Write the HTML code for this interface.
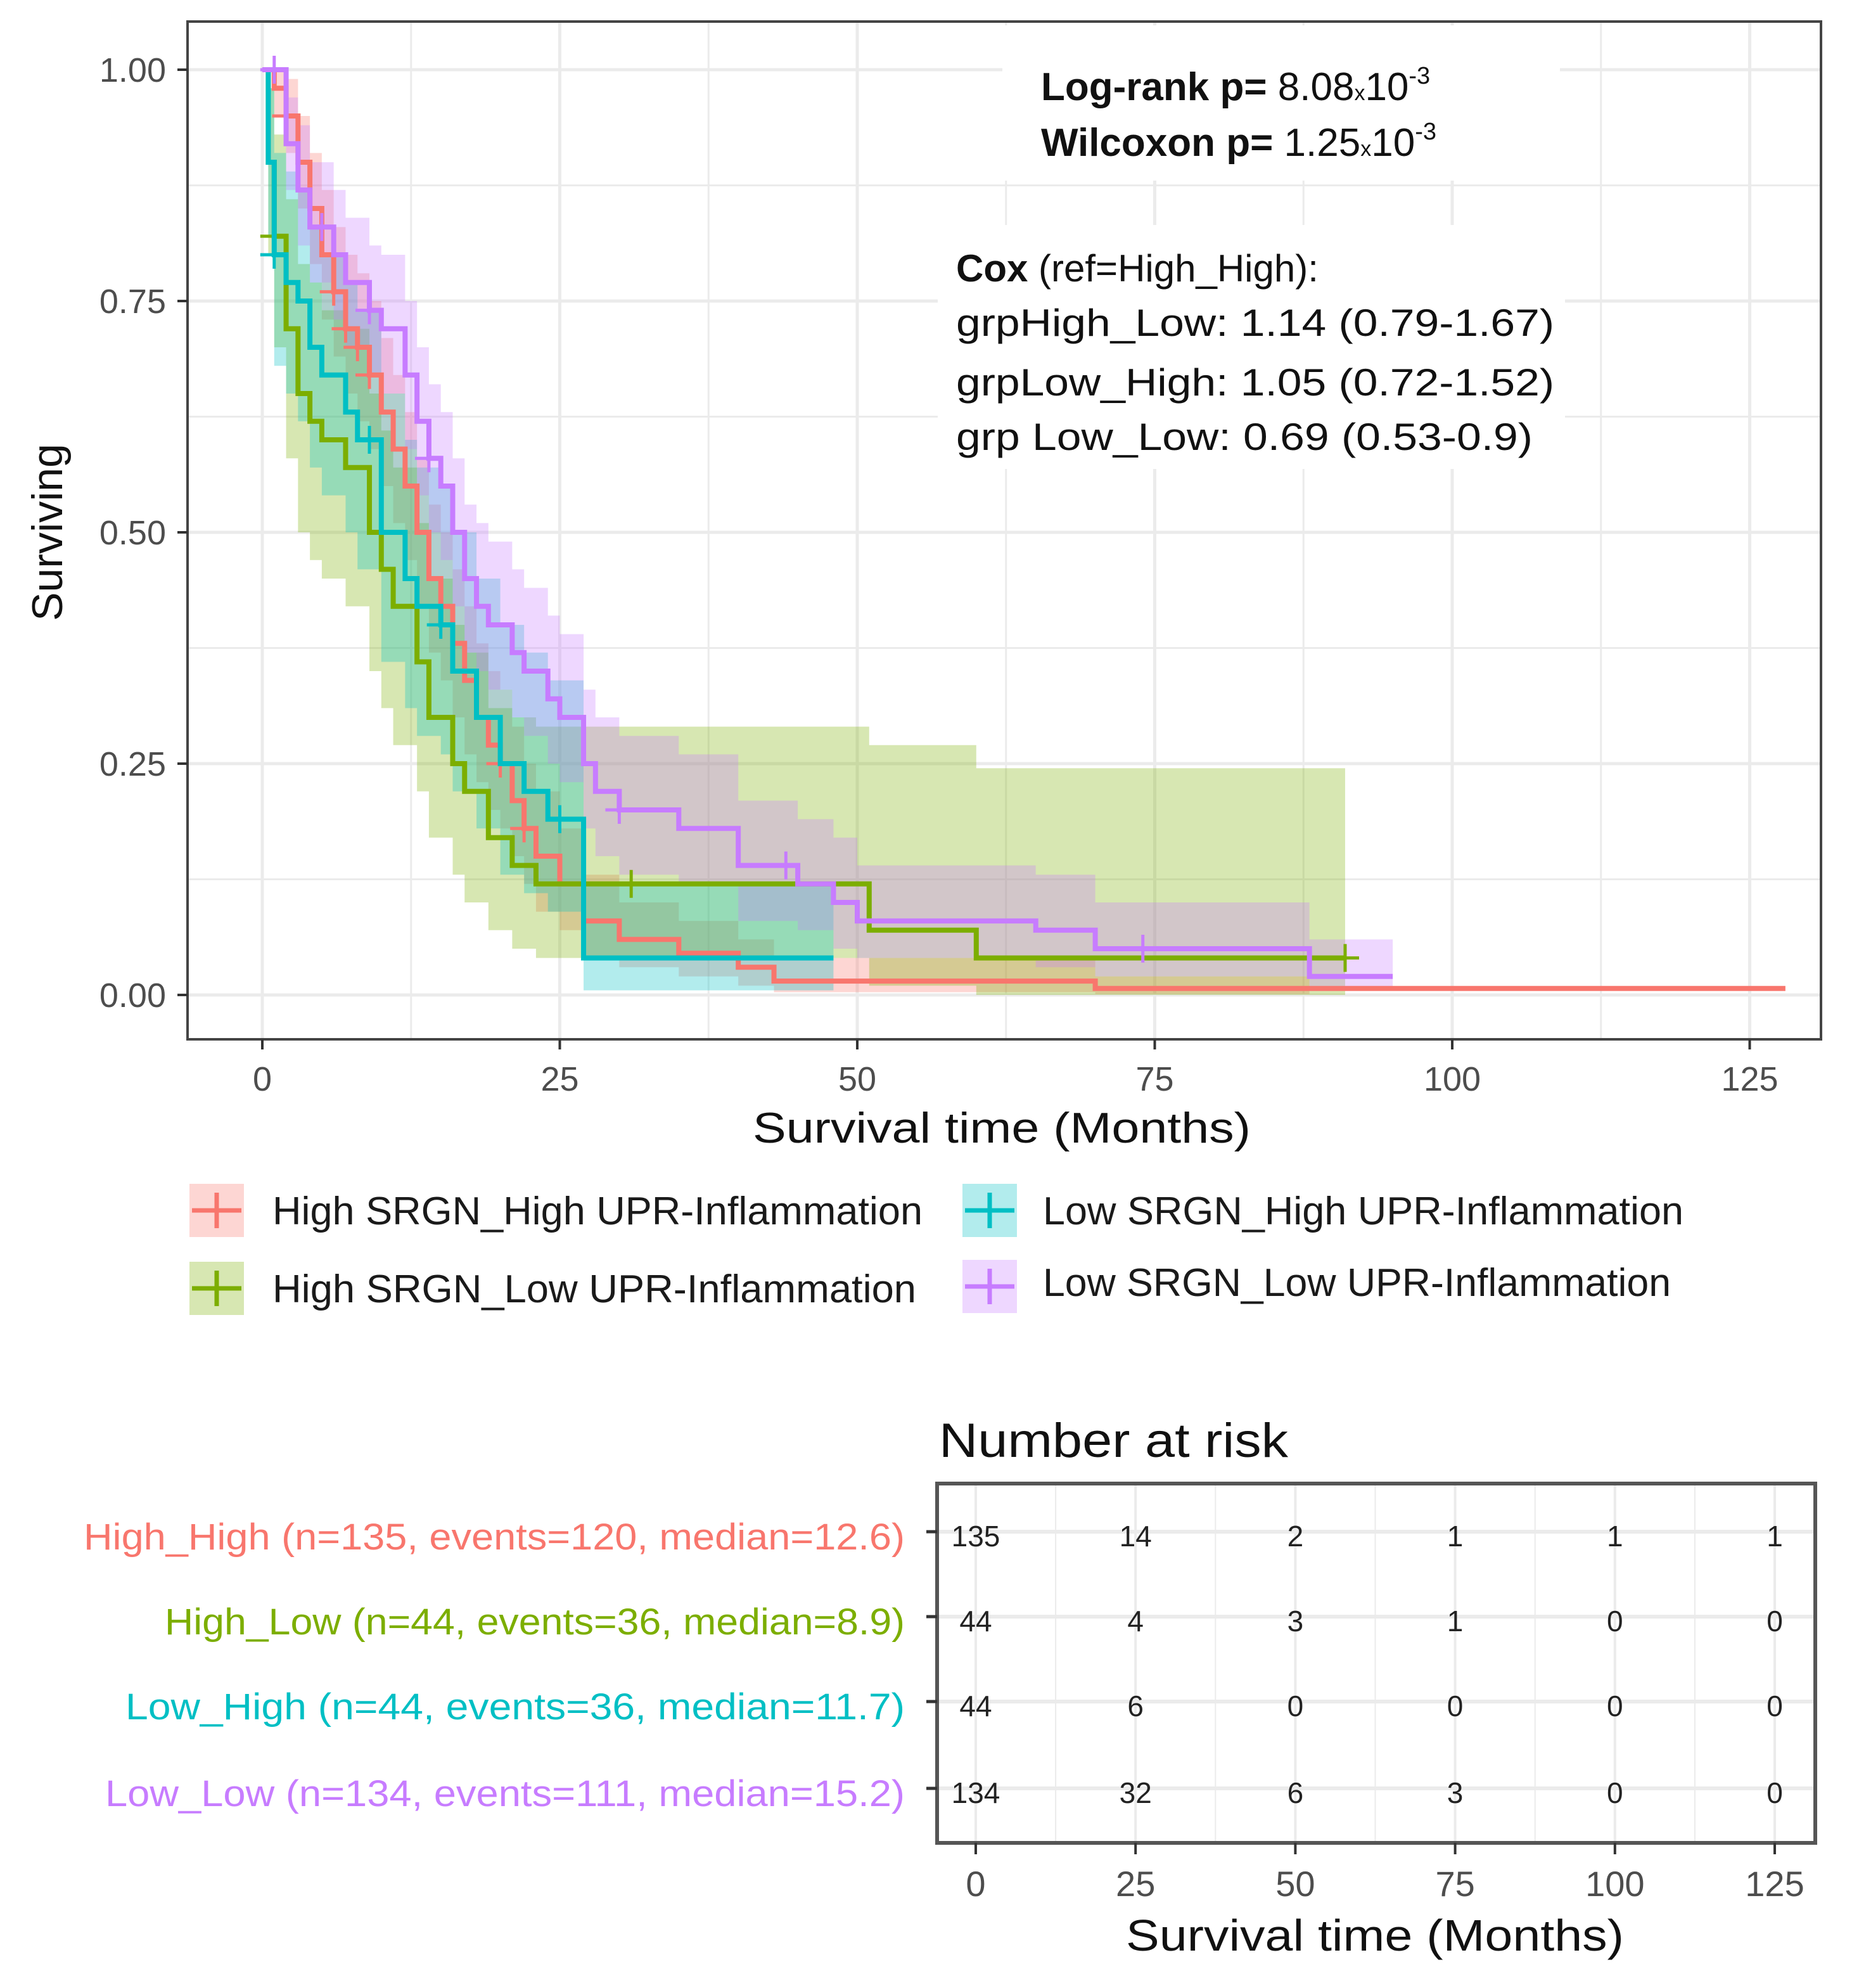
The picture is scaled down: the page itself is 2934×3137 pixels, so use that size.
<!DOCTYPE html>
<html><head><meta charset="utf-8">
<style>
html,body{margin:0;padding:0;background:#fff;}
svg{display:block;font-family:"Liberation Sans",sans-serif;}
</style></head>
<body>
<svg id="chart" width="2934" height="3137" viewBox="0 0 2934 3137" xmlns="http://www.w3.org/2000/svg">
<rect x="0" y="0" width="2934" height="3137" fill="#fff"/>
<g id="grid"></g>
<g id="bands"></g>
<g id="curves"></g>
<g id="annot">
  <rect x="1582" y="40" width="880" height="245" fill="#fff"/>
  <rect x="1480" y="355" width="990" height="385" fill="#fff"/>
  <text x="1643" y="158" font-size="62" fill="#111"><tspan font-weight="bold">Log-rank  p=</tspan> 8.08<tspan font-size="34">x</tspan>10<tspan font-size="38" dy="-26">-3</tspan></text>
  <text x="1643" y="246" font-size="62" fill="#111"><tspan font-weight="bold">Wilcoxon p=</tspan> 1.25<tspan font-size="34">x</tspan>10<tspan font-size="38" dy="-26">-3</tspan></text>
  <text x="1509" y="444" font-size="60" fill="#111"><tspan font-weight="bold">Cox</tspan> (ref=High_High):</text>
  <text x="1509" y="530" font-size="60" fill="#111" textLength="944" lengthAdjust="spacingAndGlyphs">grpHigh_Low: 1.14 (0.79-1.67)</text>
  <text x="1509" y="624" font-size="60" fill="#111" textLength="944" lengthAdjust="spacingAndGlyphs">grpLow_High: 1.05 (0.72-1.52)</text>
  <text x="1509" y="710" font-size="60" fill="#111" textLength="910" lengthAdjust="spacingAndGlyphs">grp Low_Low: 0.69 (0.53-0.9)</text>
</g>
<rect x="296" y="34" width="2578" height="1606" fill="none" stroke="#444" stroke-width="4"/>
<g id="axes"></g>
<text x="1581" y="1803" font-size="68" fill="#111" text-anchor="middle" textLength="786" lengthAdjust="spacingAndGlyphs">Survival time (Months)</text>
<text transform="translate(98,840) rotate(-90)" font-size="68" fill="#111" text-anchor="middle">Surviving</text>
<g id="legend"></g>
<g id="risk"></g>
</svg>
<script>
const NS="http://www.w3.org/2000/svg";
const groupNames=["High_High","High_Low","Low_High","Low_Low"];
const colors=["#F8766D","#7CAE00","#00BFC4","#C77CFF"];
const legendLabels=["High SRGN_High UPR-Inflammation","High SRGN_Low UPR-Inflammation","Low SRGN_High UPR-Inflammation","Low SRGN_Low UPR-Inflammation"];
const xTicks=[0,25,50,75,100,125];
const yTicks=[0,0.25,0.5,0.75,1];
const yTickLabels=["0.00","0.25","0.50","0.75","1.00"];
// High_High
const hhTime=[0,1,2,3,4,5,6,7,8,9,10,11,12,13,14,15,16,17,18,19,20,21,22,23,25,27,30,35,40,43,70];
const hhSurv=[1,.98,.95,.9,.85,.8,.76,.72,.7,.67,.63,.59,.55,.5,.45,.42,.38,.34,.3,.27,.25,.21,.18,.15,.12,.08,.06,.045,.03,.015,.007];
const hhUpper=[1,1,.99,.95,.91,.87,.83,.8,.78,.75,.71,.67,.63,.58,.53,.5,.46,.42,.38,.35,.33,.29,.25,.22,.18,.13,.1,.08,.06,.04,.02];
const hhLower=[1,.95,.91,.85,.79,.73,.69,.65,.62,.59,.55,.51,.47,.42,.37,.34,.3,.26,.23,.2,.18,.15,.12,.09,.07,.04,.03,.02,.01,.003,.001];
const hhEnd=128;
const hhCensor=[2,6,7,8,9,20,22];
// High_Low
const hlTime=[0,0.5,1,2,3,4,5,7,9,10,11,13,14,16,17,19,21,23,51,60];
const hlSurv=[1,.9,.82,.72,.65,.62,.6,.57,.5,.46,.42,.36,.3,.25,.22,.17,.14,.12,.07,.04];
const hlUpper=[1,.98,.93,.86,.79,.77,.74,.72,.65,.61,.57,.51,.45,.4,.37,.31,.3,.29,.27,.245];
const hlLower=[1,.8,.7,.58,.5,.47,.45,.42,.35,.31,.27,.22,.17,.13,.1,.07,.05,.04,.01,.0];
const hlEnd=91;
const hlCensor=[1,31,91];
// Low_High
const lhTime=[0,0.5,1,2,3,4,5,7,8,10,12,13,15,16,18,20,22,24,27];
const lhSurv=[1,.9,.8,.77,.75,.7,.67,.63,.6,.5,.45,.42,.4,.35,.3,.25,.22,.19,.04];
const lhUpper=[1,.98,.91,.89,.87,.83,.8,.77,.74,.65,.6,.57,.55,.5,.45,.4,.37,.34,.12];
const lhLower=[1,.82,.68,.65,.62,.57,.54,.5,.46,.36,.31,.28,.26,.22,.18,.13,.11,.09,.005];
const lhEnd=48;
const lhCensor=[1,9,15,25];
// Low_Low
const llTime=[0,2,3,4,6,7,9,10,12,13,14,15,16,17,18,19,21,22,24,25,27,28,30,35,40,45,48,50,65,70,88];
const llSurv=[1,.92,.87,.83,.8,.77,.74,.72,.67,.62,.58,.55,.5,.45,.42,.4,.37,.35,.32,.3,.25,.22,.2,.18,.14,.12,.1,.08,.07,.05,.02];
const llUpper=[1,.97,.94,.9,.87,.84,.81,.8,.75,.7,.66,.63,.58,.53,.51,.49,.46,.44,.41,.39,.33,.3,.28,.26,.21,.19,.17,.14,.13,.1,.06];
const llLower=[1,.87,.81,.77,.73,.7,.67,.65,.59,.54,.5,.47,.42,.37,.35,.33,.3,.28,.25,.23,.18,.15,.13,.12,.08,.07,.05,.04,.03,.02,.005];
const llEnd=95;
const llCensor=[1,5,9,14,30,44,74];
// risk table
const riskTimes=[0,25,50,75,100,125];
const riskHH=[135,14,2,1,1,1];
const riskHL=[44,4,3,1,0,0];
const riskLH=[44,6,0,0,0,0];
const riskLL=[134,32,6,3,0,0];
const riskLabels=["High_High (n=135, events=120, median=12.6)","High_Low (n=44, events=36, median=8.9)","Low_High (n=44, events=36, median=11.7)","Low_Low (n=134, events=111, median=15.2)"];

const X=t=>414+t*18.78;
const Y=s=>1570-s*1460;
const RX=t=>1540+t*10.088;
function mk(tag,attrs,parent){const e=document.createElementNS(NS,tag);for(const k in attrs)e.setAttribute(k,attrs[k]);parent.appendChild(e);return e;}

const grid=document.getElementById('grid');
for(let t=-12.5;t<=137.5;t+=12.5){const x=X(t);if(x<296||x>2874)continue;
 const l=mk('line',{x1:x,x2:x,y1:34,y2:1640,stroke:'#ebebeb','stroke-width':(t%25===0)?5:3},grid);
 
 }
for(let s=-0.125;s<=1.125;s+=0.125){const y=Y(s);if(y<34||y>1640)continue;
 const l=mk('line',{x1:296,x2:2874,y1:y,y2:y,stroke:'#ebebeb','stroke-width':(Math.round(s*8)%2===0)?5:3},grid);
 
 }

const series=[
 [hhTime,hhSurv,hhUpper,hhLower,hhEnd,hhCensor,88],
 [hlTime,hlSurv,hlUpper,hlLower,hlEnd,hlCensor,91],
 [lhTime,lhSurv,lhUpper,lhLower,lhEnd,lhCensor,48],
 [llTime,llSurv,llUpper,llLower,llEnd,llCensor,95]];
const bands=document.getElementById('bands'),curves=document.getElementById('curves');
function stepPts(T,V,end){const p=[];for(let i=0;i<T.length;i++){if(i>0)p.push([X(T[i]),Y(V[i-1])]);p.push([X(T[i]),Y(V[i])]);}p.push([X(end),Y(V[V.length-1])]);return p;}
function survAt(T,V,t){let v=V[0];for(let i=0;i<T.length;i++){if(T[i]<=t)v=V[i];}return v;}
series.forEach((S,i)=>{
 const [T,V,U,L,end,C,bandEnd]=S;
 const up=stepPts(T,U,bandEnd),lo=stepPts(T,L,bandEnd).reverse();
 const poly=mk('polygon',{points:up.concat(lo).map(p=>p.join(',')).join(' '),fill:colors[i],'fill-opacity':0.3},bands);
 
 
});
series.forEach((S,i)=>{
 const [T,V,U,L,end,C]=S;
 const pl=mk('polyline',{points:stepPts(T,V,end).map(p=>p.join(',')).join(' '),fill:'none',stroke:colors[i],'stroke-width':8},curves);
 
 
 C.forEach(t=>{const x=X(t),y=Y(survAt(T,V,t));
  const p=mk('path',{d:`M${x-22},${y}H${x+22}M${x},${y-22}V${y+22}`,stroke:colors[i],'stroke-width':5},curves);
  
  });
});

const axes=document.getElementById('axes');
xTicks.forEach(t=>{const x=X(t);
 mk('line',{x1:x,x2:x,y1:1640,y2:1656,stroke:'#333','stroke-width':4},axes);
 const tx=mk('text',{x:x,y:1721,'font-size':54,fill:'#4d4d4d','text-anchor':'middle'},axes);tx.textContent=t;
 
 });
yTicks.forEach((s,i)=>{const y=Y(s);
 mk('line',{x1:280,x2:296,y1:y,y2:y,stroke:'#333','stroke-width':4},axes);
 const tx=mk('text',{x:262,y:y+19,'font-size':54,fill:'#4d4d4d','text-anchor':'end'},axes);tx.textContent=yTickLabels[i];
 
 });

const legend=document.getElementById('legend');
const legPos=[[299,1868,430,1932,1026],[299,1991,430,2055,1016],[1519,1868,1646,1932,1011],[1519,1988,1646,2045,991]];
legPos.forEach((p,i)=>{
 const g=mk('g',{},legend);
 
 
 mk('rect',{x:p[0],y:p[1],width:86,height:84,fill:colors[i],'fill-opacity':0.3},g);
 mk('path',{d:`M${p[0]+4},${p[1]+42}H${p[0]+82}M${p[0]+43},${p[1]+14}V${p[1]+70}`,stroke:colors[i],'stroke-width':7},g);
 const t=mk('text',{x:p[2],y:p[3],'font-size':62,fill:'#1a1a1a',textLength:p[4],lengthAdjust:'spacingAndGlyphs'},g);t.textContent=legendLabels[i];
});

const risk=document.getElementById('risk');
const title=mk('text',{x:1482,y:2299,'font-size':76,fill:'#111',textLength:551,lengthAdjust:'spacingAndGlyphs'},risk);
title.textContent='Number at risk';


const rowY=[2425,2559,2693,2830];
for(let t=0;t<=125;t+=12.5){mk('line',{x1:RX(t),x2:RX(t),y1:2341,y2:2908,stroke:'#ebebeb','stroke-width':t%25===0?4:2},risk);}
rowY.forEach(y=>mk('line',{x1:1479,x2:2865,y1:y-8,y2:y-8,stroke:'#ebebeb','stroke-width':6},risk));
const bx=mk('rect',{x:1479,y:2341,width:1386,height:567,fill:'none',stroke:'#555','stroke-width':6},risk);


const riskRows=[riskHH,riskHL,riskLH,riskLL];
const labelW=[1296,1168,1230,1262];
riskRows.forEach((row,i)=>{const y=rowY[i];
 const lb=mk('text',{x:1428,y:y+20,'font-size':58,fill:colors[i],'text-anchor':'end',textLength:labelW[i],lengthAdjust:'spacingAndGlyphs'},risk);
 lb.textContent=riskLabels[i];
 
 
 mk('line',{x1:1462,x2:1479,y1:y-8,y2:y-8,stroke:'#333','stroke-width':5},risk);
 row.forEach((v,j)=>{const tx=mk('text',{x:RX(riskTimes[j]),y:y+15,'font-size':46,fill:'#222','text-anchor':'middle'},risk);tx.textContent=v;
  
  });
});
riskTimes.forEach(t=>{const x=RX(t);
 mk('line',{x1:x,x2:x,y1:2908,y2:2926,stroke:'#333','stroke-width':4},risk);
 const tx=mk('text',{x:x,y:2992,'font-size':56,fill:'#4d4d4d','text-anchor':'middle'},risk);tx.textContent=t;
 
 });
const rt=mk('text',{x:2170,y:3078,'font-size':70,fill:'#111','text-anchor':'middle',textLength:786,lengthAdjust:'spacingAndGlyphs'},risk);
rt.textContent='Survival time (Months)';


</script>
</body></html>
